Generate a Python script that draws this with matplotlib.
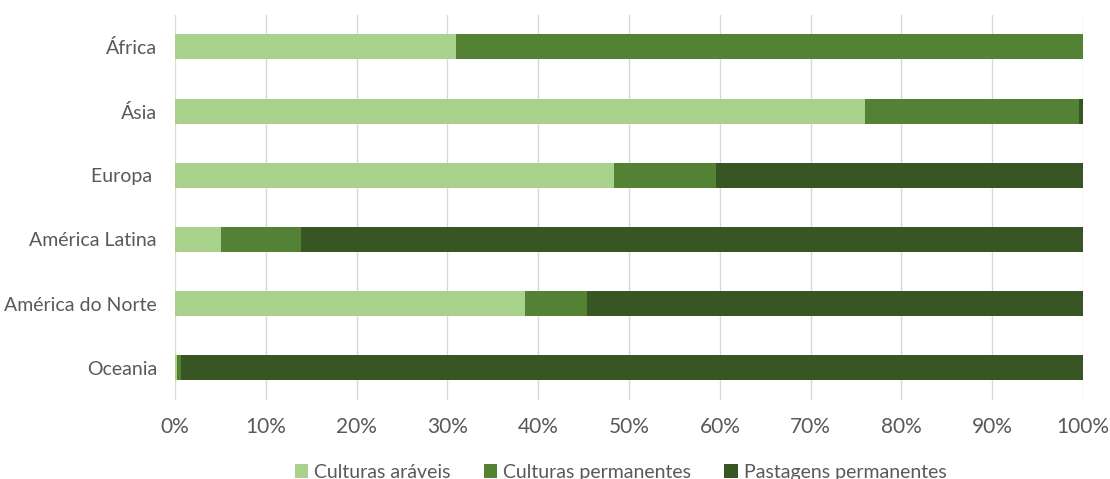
import numpy as np
import matplotlib.pyplot as plt
from matplotlib.ticker import PercentFormatter

# data (percent of agricultural area)
regions = ['África', 'Ásia', 'Europa ', 'América Latina', 'América do Norte', 'Oceania']
culturas_araveis = [30.9, 76.0, 48.3, 5.1, 38.5, 0.2]
culturas_permanentes = [69.1, 23.6, 11.3, 8.8, 6.9, 0.5]
pastagens_permanentes = [0.0, 0.4, 40.4, 86.1, 54.6, 99.3]

series = [
    ('Culturas aráveis', culturas_araveis, '#a9d18e'),
    ('Culturas permanentes', culturas_permanentes, '#548235'),
    ('Pastagens permanentes', pastagens_permanentes, '#375623'),
]

plt.rcParams['font.family'] = ['Lato', 'DejaVu Sans']

fig = plt.figure(figsize=(11.1, 4.79), dpi=100, facecolor='white')
ax = fig.add_axes([0.1577, 0.165, 0.818, 0.804])

y = np.arange(len(regions))
left = np.zeros(len(regions))
for name, vals, col in series:
    vals = np.array(vals)
    ax.barh(y, vals, left=left, height=0.39, color=col, label=name, zorder=3)
    left += vals

ax.set_xlim(0, 100)
ax.set_ylim(len(regions) - 0.5, -0.5)
ax.set_yticks(y)
ax.set_yticklabels(regions)
ax.set_xticks(np.arange(0, 101, 10))
ax.xaxis.set_major_formatter(PercentFormatter(decimals=0))
ax.grid(axis='x', color='#d9d9d9', linewidth=1, zorder=0)
ax.tick_params(axis='both', length=0, colors='#595959')
ax.tick_params(axis='x', pad=12, labelsize=15)
ax.tick_params(axis='y', pad=13, labelsize=14)
for s in ax.spines.values():
    s.set_visible(False)
ax.axvline(0, color='#d9d9d9', linewidth=1.2, zorder=1)

leg = fig.legend(loc='lower center', bbox_to_anchor=(0.559, -0.04), ncol=3, frameon=False,
                 fontsize=14, handlelength=0.7, handleheight=0.7, handletextpad=0.3,
                 columnspacing=1.7)
for t in leg.get_texts():
    t.set_color('#595959')

fig.savefig('out.png', dpi=100)
